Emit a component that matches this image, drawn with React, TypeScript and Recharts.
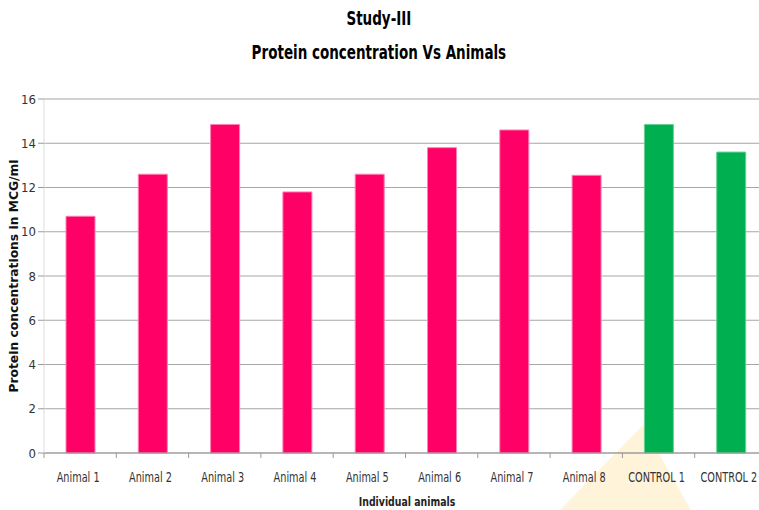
import React from 'react';
import { BarChart, Bar, XAxis, YAxis, CartesianGrid, Cell, Label } from 'recharts';

const categories = ['Animal 1', 'Animal 2', 'Animal 3', 'Animal 4', 'Animal 5', 'Animal 6', 'Animal 7', 'Animal 8', 'CONTROL 1', 'CONTROL 2'];
const protein = [10.7, 12.6, 14.85, 11.8, 12.6, 13.8, 14.6, 12.55, 14.85, 13.6];
const groups = ['animal', 'animal', 'animal', 'animal', 'animal', 'animal', 'animal', 'animal', 'control', 'control'];
const yTicks = [0, 2, 4, 6, 8, 10, 12, 14, 16];

const data = categories.map((name, i) => ({ name, value: protein[i], group: groups[i] }));

const FONT = '"DejaVu Sans", sans-serif';
const BAND = 72.3;

function CategoryTick(props: any) {
  const { x, y, payload, index } = props;
  return (
    <g>
      <line x1={x - BAND / 2} x2={x - BAND / 2} y1={y - 8} y2={y - 3} stroke="#999" />
      {index === categories.length - 1 && (
        <line x1={x + BAND / 2} x2={x + BAND / 2} y1={y - 8} y2={y - 3} stroke="#999" />
      )}
      <text
        transform={`translate(${x - 2},${y + 21}) scale(0.8,1)`}
        textAnchor="middle"
        fontSize={13.5}
        fill="#333"
        fontFamily={FONT}
        style={{ fontStretch: 'condensed' }}
      >
        {payload.value}
      </text>
    </g>
  );
}

export default function App() {
  return (
    <div style={{ position: 'absolute', left: 0, top: 0, width: 759, height: 510, overflow: 'hidden', background: '#fff', fontFamily: FONT }}>
      <svg width={759} height={510} style={{ position: 'absolute', left: 0, top: 0 }}>
        <polygon points="643,425 558,512 692,512" fill="#fff4d9" />
      </svg>
      <div style={{ position: 'absolute', top: 4, left: 0, width: 759, textAlign: 'center', fontWeight: 'bold', fontSize: 20, color: '#000', lineHeight: '28px', fontStretch: 'condensed', transform: 'scaleX(0.75)', transformOrigin: '377px 0' }}>
        <div>Study-III</div>
        <div style={{ marginTop: 6 }}>Protein concentration Vs Animals</div>
      </div>
      <div style={{ position: 'absolute', top: 494, left: 0, width: 814, textAlign: 'center', fontWeight: 'bold', fontSize: 13, color: '#222', lineHeight: '16px', fontStretch: 'condensed', transform: 'scaleX(0.8)', transformOrigin: '407px 0' }}>
        Individual animals
      </div>
      <div style={{ position: 'absolute', left: 0, top: 0 }}>
        <BarChart width={772} height={510} data={data} margin={{ top: 99, right: 5, left: 14, bottom: 27 }}>
          <CartesianGrid vertical={false} stroke="#a6a6a6" />
          <XAxis
            dataKey="name"
            interval={0}
            tickLine={false}
            axisLine={{ stroke: '#999' }}
            height={30}
            tick={<CategoryTick />}
          />
          <YAxis
            width={30}
            domain={[0, 16]}
            ticks={yTicks}
            tickLine={{ stroke: '#999' }}
            tickSize={6}
            axisLine={{ stroke: '#ddd' }}
            tick={{ fontSize: 13, fill: '#333', fontFamily: FONT, style: { fontStretch: 'condensed' } }}
          >
            <Label
              value="Protein concentrations in MCG/ml"
              angle={-90}
              position="insideLeft"
              offset={0}
              style={{ textAnchor: 'middle', fontSize: 12.3, fontWeight: 'bold', fill: '#111', fontFamily: FONT }}
            />
          </YAxis>
          <Bar dataKey="value" barSize={29} isAnimationActive={false}>
            {data.map((d, i) => (
              <Cell
                key={i}
                fill={d.group === 'control' ? '#00b050' : '#ff0066'}
                stroke={d.group === 'control' ? '#66d095' : '#ff80b3'}
                strokeWidth={1}
              />
            ))}
          </Bar>
        </BarChart>
      </div>
    </div>
  );
}
